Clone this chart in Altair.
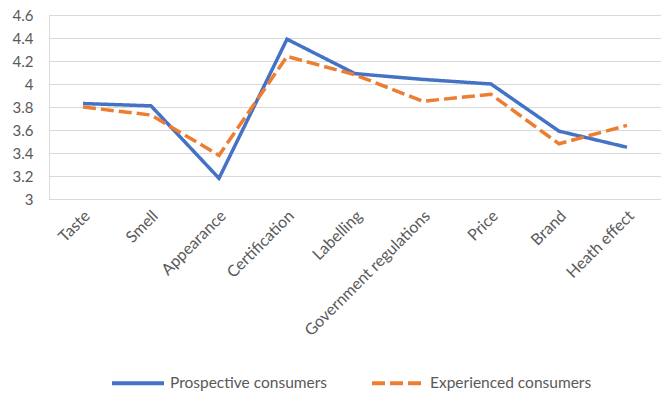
import altair as alt
import pandas as pd

categories = ["Taste", "Smell", "Appearance", "Certification", "Labelling",
              "Government regulations", "Price", "Brand", "Heath effect"]
prospective = [3.83, 3.81, 3.18, 4.39, 4.09, 4.04, 4.00, 3.59, 3.45]
experienced = [3.80, 3.73, 3.38, 4.24, 4.08, 3.85, 3.91, 3.48, 3.64]
series_names = ["Prospective consumers", "Experienced consumers"]
y_ticks = [3, 3.2, 3.4, 3.6, 3.8, 4, 4.2, 4.4, 4.6]

rows = []
for i, c in enumerate(categories):
    rows.append({"cat": c, "series": series_names[0], "value": prospective[i], "order": i})
    rows.append({"cat": c, "series": series_names[1], "value": experienced[i], "order": i})
df = pd.DataFrame(rows)

FONT = "Lato"
GREY = "#595959"

chart = alt.Chart(df).mark_line(strokeWidth=3.5, strokeCap="butt").encode(
    x=alt.X("cat:N", sort=categories, title=None,
            scale=alt.Scale(type="point", padding=0.5),
            axis=alt.Axis(labelAngle=-45, labelAlign="right", labelBaseline="middle",
                          labelFontSize=16, labelColor=GREY, labelFont=FONT,
                          labelOffset=4,
                          domain=False, ticks=False, grid=False, labelPadding=14)),
    y=alt.Y("value:Q", title=None,
            scale=alt.Scale(domain=[3, 4.6], nice=False, zero=False),
            axis=alt.Axis(values=y_ticks, format=".2~f", labelFontSize=15,
                          labelColor=GREY, labelFont=FONT, domain=False, ticks=False,
                          gridColor="#d9d9d9", gridWidth=1, labelPadding=16)),
    color=alt.Color("series:N", sort=series_names,
                    scale=alt.Scale(domain=series_names, range=["#4472C4", "#ED7D31"]),
                    legend=alt.Legend(title=None, orient="none", direction="horizontal",
                                      legendX=61, legendY=340, symbolType="stroke",
                                      symbolSize=2704, symbolStrokeWidth=4,
                                      labelFontSize=15.5, labelColor=GREY, labelFont=FONT,
                                      columnPadding=36, labelOffset=4, labelLimit=300)),
    strokeDash=alt.StrokeDash("series:N", sort=series_names,
                              scale=alt.Scale(domain=series_names, range=[[1, 0], [13, 5]]),
                              legend=None),
    order="order:Q",
).properties(
    width=612, height=184,
    autosize=alt.AutoSizeParams(type="none"),
    padding={"left": 49, "top": 15, "right": 0, "bottom": 194},
).configure_view(stroke=None).configure(background="white")

chart.save("out.html", embed_options={"renderer": "svg", "actions": False})
